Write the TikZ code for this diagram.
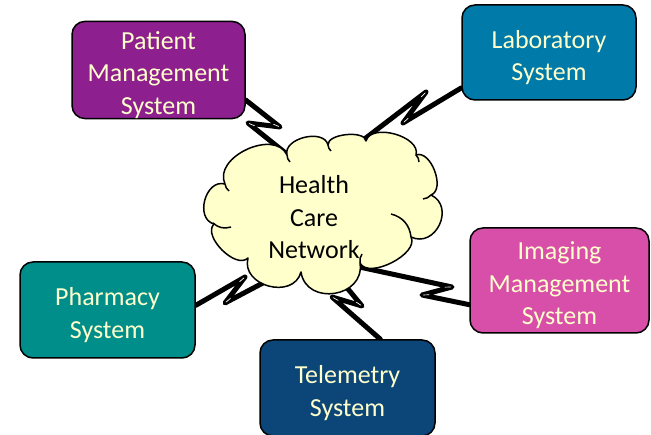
\documentclass[tikz,border=0pt]{standalone}
\usepackage{fontspec}
\setmainfont{Carlito}
\usetikzlibrary{calc}
\pgfdeclarelayer{background}
\pgfsetlayers{background,main}
\definecolor{patc}{HTML}{8E1F8F}
\definecolor{labc}{HTML}{007AA8}
\definecolor{imgc}{HTML}{D84FAA}
\definecolor{phac}{HTML}{008E8A}
\definecolor{telc}{HTML}{0C4679}
\definecolor{paleyel}{HTML}{FFFFCC}
\newcommand\topgap{\rule{0pt}{28pt}}
\tikzset{
  sysbox/.style={draw=black, line width=1.5pt, rounded corners=13pt,
    text=paleyel, align=center, inner sep=0pt,
    font=\fontsize{26}{32.5}\selectfont},
  bolt/.style={draw=black, line width=5pt, line join=round, line cap=round},
  slit/.style={draw=white, line width=0.7pt, line cap=round},
  cloudline/.style={draw=black, line width=1.5pt},
  puff/.style={bend left=90, looseness=#1}
}
\newcommand\boltslit[3]{%
  \coordinate (bsA) at ($(#1)!10pt!(#2)$);
  \coordinate (bsB) at ($(#1)!10pt!(#3)$);
  \coordinate (bsM) at ($(bsA)!0.5!(bsB)$);
  \draw[slit] ($(#1)!1.4pt!(bsM)$) -- ($(#1)!7pt!(bsM)$);}
\begin{document}
\begin{tikzpicture}[x=1pt, y=1pt]
\useasboundingbox (0,0) rectangle (651,435);

% cloud
\path[cloudline, fill=paleyel, line join=round]
  (225,251) to[puff=1.1] (287,280)
  to[puff=1.05] (328,290)
  to[puff=0.75] (366,294)
  to[puff=0.95] (416,280)
  to[puff=0.95] (431,240)
  to[puff=1.5] (411,198)
  to[puff=0.84] (360,172)
  to[puff=1.5] (301,163)
  to[puff=1.36] (248,177)
  to[puff=0.9] (214,211)
  to[puff=1.25] (225,251) -- cycle;
\draw[cloudline] (391,221) to[bend left=35] (411,198);
\draw[cloudline] (213,212) to[bend right=30] (231,208);
\draw[cloudline] (431,240) to[bend left=20] (423,236);
\draw[cloudline] (225,251) to[bend right=20] (229,244);
\draw[cloudline] (287,280) to[bend right=20] (290,273);
\draw[cloudline] (328,290) to[bend right=20] (331,284);
\draw[cloudline] (416,280) to[bend left=20] (419,273);
\draw[cloudline] (360,172) to[bend left=20] (362,181);
\node[align=center, font=\fontsize{26}{32.5}\selectfont, inner sep=0pt] (hcn) at (314,217.5) {Health\\Care\\Network};

% systems
\node[sysbox, fill=patc, minimum width=173pt, minimum height=96pt] (pat) at (158.5,365) {\topgap Patient\\Management\\System};
\node[sysbox, fill=labc, minimum width=174pt, minimum height=95pt] (lab) at (549,382.5) {\topgap Laboratory\\System};
\node[sysbox, fill=imgc, minimum width=179pt, minimum height=105pt] (img) at (559.5,154.5) {\topgap Imaging\\Management\\System};
\node[sysbox, fill=phac, minimum width=175pt, minimum height=96pt] (pha) at (107.5,125) {\topgap Pharmacy\\System};
\node[sysbox, fill=telc, minimum width=175pt, minimum height=96pt] (tel) at (347.5,47) {\topgap Telemetry\\System};

% bolt points
\coordinate (pa1) at (280,308); \coordinate (pa2) at (248,312); \coordinate (pa3) at (293,276);
\coordinate (la1) at (403,312); \coordinate (la2) at (426,343); \coordinate (la3) at (358,291);
\coordinate (ph1) at (245,158); \coordinate (ph2) at (225,132); \coordinate (ph3) at (280,161);
\coordinate (te0) at (339,157); \coordinate (te1) at (362,129); \coordinate (te2) at (332,138);
\coordinate (im0) at (350,170); \coordinate (im1) at (452,148); \coordinate (im2) at (422,140);

\begin{pgfonlayer}{background}
\draw[bolt] (pat.-19) -- (pa1) -- (pa2) -- (pa3);
\draw[bolt] (lab.202) -- (la1) -- (la2) -- (la3);
\draw[bolt] (pha.3) -- (ph1) -- (ph2) -- (ph3);
\draw[bolt] (te0) -- (te1) -- (te2) -- (tel.56);
\draw[bolt] (im0) -- (im1) -- (im2) -- (img.195);
\end{pgfonlayer}
\boltslit{pa1}{pat.-19}{pa2}
\boltslit{pa2}{pa1}{pa3}
\boltslit{la1}{lab.202}{la2}
\boltslit{la2}{la1}{la3}
\boltslit{ph1}{pha.3}{ph2}
\boltslit{ph2}{ph1}{ph3}
\boltslit{te1}{te0}{te2}
\boltslit{te2}{te1}{tel.56}
\boltslit{im1}{im0}{im2}
\boltslit{im2}{im1}{img.195}
\end{tikzpicture}
\end{document}
